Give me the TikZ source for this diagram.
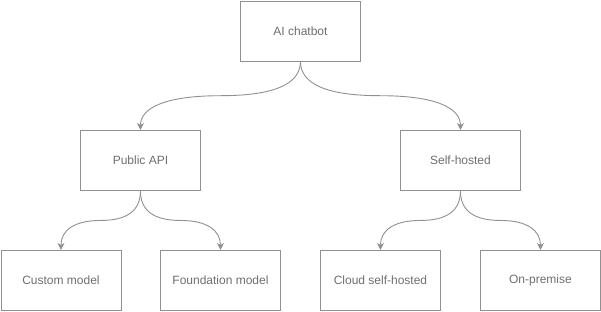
\documentclass[tikz,border=0pt]{standalone}
\usepackage{fontspec}
\setmainfont{Liberation Sans}
\usetikzlibrary{arrows.meta,calc}
\definecolor{linegray}{HTML}{909090}
\definecolor{textgray}{HTML}{6E6E6E}
\tikzset{
  box/.style={draw=linegray, line width=0.9pt, minimum width=120pt, minimum height=60pt,
    inner sep=0pt, anchor=north west, font=\fontsize{12}{14}\selectfont, text=textgray},
  curv/.style={draw=linegray, line width=0.9pt,
    -{Stealth[length=7pt,width=7pt,inset=2pt]},
    to path={let \p1=(\tikztostart), \p2=(\tikztotarget),
      \n1={0.5*(\y1+\y2)}, \n2={0.5*(\x1+\x2)} in
      .. controls (\x1,{\y1+2/3*(\n1-\y1)}) and ({\n2+2/3*(\x1-\n2)},\n1) .. (\n2,\n1)
      .. controls ({\n2+2/3*(\x2-\n2)},\n1) and (\x2,{\y2+2/3*(\n1-\y2)}) .. (\p2) \tikztonodes}}
}
\begin{document}
\begin{tikzpicture}[x=1pt,y=-1pt]
\useasboundingbox (0,0) rectangle (601,311);
\node[box] (ai) at (240,0.5) {AI chatbot};
\node[box] (pub) at (80,130) {Public API};
\node[box] (self) at (400,130) {Self-hosted};
\node[box] (cust) at (0.5,250) {Custom model};
\node[box] (found) at (160,250) {Foundation model};
\node[box] (cloud) at (320,250) {Cloud self-hosted};
\node[box] (onp) at (480,250) {On-premise};
\draw[curv] (ai.south) to (pub.north);
\draw[curv] (ai.south) to (self.north);
\draw[curv] (pub.south) to (cust.north);
\draw[curv] (pub.south) to (found.north);
\draw[curv] (self.south) to (cloud.north);
\draw[curv] (self.south) to (onp.north);
\end{tikzpicture}
\end{document}
